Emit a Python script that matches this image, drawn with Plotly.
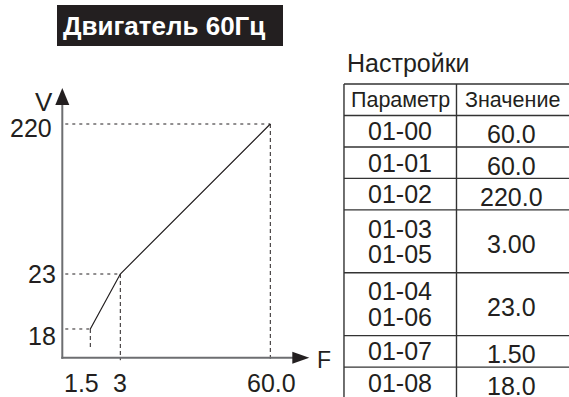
import numpy as np
import plotly.graph_objects as go

# ---------------- data ----------------
FREQ = [1.5, 3.0, 60.0]            # F points of the V/F curve
VOLT = [18.0, 23.0, 220.0]         # V points of the V/F curve
X_LABELS = ["1.5", "3", "60.0"]
Y_LABELS = ["18", "23", "220"]

TITLE = "Двигатель 60Гц"
TABLE_TITLE = "Настройки"
TABLE_HEADER = ["Параметр", "Значение"]
PARAMS = ["01-00", "01-01", "01-02", "01-03\n01-05", "01-04\n01-06", "01-07", "01-08"]
VALUES = ["60.0", "60.0", "220.0", "3.00", "23.0", "1.50", "18.0"]

# ---------------- styling / schematic scale ----------------
W, H = 569, 397
FONT = "Liberation Sans, Arial, sans-serif"
INK = "#231f20"
AXIS_GREY = "#6d6e71"

# schematic (non-linear) scale slots, in pixels from origin
X_SLOTS = [0, 28, 58, 208]
Y_SLOTS = [0, 28.7, 83.7, 233.7]


def fx(v):
    return np.interp(v, [0] + FREQ, X_SLOTS)


def fy(v):
    return np.interp(v, [0] + VOLT, Y_SLOTS)


ORIGIN_PX = (62.3, 357.7)
XR = [-60, 275]
YR = [-38, 290]
x_dom = [(ORIGIN_PX[0] + XR[0]) / W, (ORIGIN_PX[0] + XR[1]) / W]
y_dom = [1 - (ORIGIN_PX[1] - YR[0]) / H, 1 - (ORIGIN_PX[1] - YR[1]) / H]

fig = go.Figure()

# dashed guide lines
V_DROP_END = [8, -2.5, -1]
for f, v, dend in zip(FREQ, VOLT, V_DROP_END):
    fig.add_trace(go.Scatter(x=[3, fx(f)], y=[fy(v), fy(v)], mode="lines",
                             line=dict(color=INK, width=1, dash="3px,4px"),
                             hoverinfo="skip", showlegend=False))
    fig.add_trace(go.Scatter(x=[fx(f), fx(f)], y=[fy(v), dend], mode="lines",
                             line=dict(color=INK, width=1, dash="4px,3px"),
                             hoverinfo="skip", showlegend=False))

# V/F curve
fig.add_trace(go.Scatter(x=fx(np.array(FREQ)), y=fy(np.array(VOLT)), mode="lines",
                         line=dict(color=INK, width=1.2), showlegend=False))

shapes = []
# axes lines
shapes.append(dict(type="line", xref="x", yref="y", x0=-1, y0=0, x1=232, y1=0,
                   line=dict(color=AXIS_GREY, width=2)))
shapes.append(dict(type="line", xref="x", yref="y", x0=0, y0=-1, x1=0, y1=255,
                   line=dict(color=AXIS_GREY, width=2)))
# arrow heads
shapes.append(dict(type="path", xref="x", yref="y", path="M 247 0 L 230 6 L 230 -6 Z",
                   fillcolor=INK, line=dict(color=INK, width=0)))
shapes.append(dict(type="path", xref="x", yref="y", path="M 0 269.7 L -7 252.7 L 7 252.7 Z",
                   fillcolor=INK, line=dict(color=INK, width=0)))

annotations = []
# axis names
annotations.append(dict(x=-18, y=255.5, xref="x", yref="y", text="V", showarrow=False,
                        xanchor="center", yanchor="middle",
                        font=dict(family=FONT, size=26, color=INK)))
annotations.append(dict(x=262, y=-2.5, xref="x", yref="y", text="F", showarrow=False,
                        xanchor="center", yanchor="middle",
                        font=dict(family=FONT, size=23, color=INK)))

# tick labels
X_LABEL_SHIFT = [-9, 0, 1]
for f, lab, sh in zip(FREQ, X_LABELS, X_LABEL_SHIFT):
    annotations.append(dict(x=fx(f), y=0, xref="x", yref="y", text=lab, showarrow=False,
                            xshift=sh, yshift=-25, xanchor="center", yanchor="middle",
                            font=dict(family=FONT, size=25, color=INK)))
Y_LABEL_SHIFT = [-6.5, 0, -4]
Y_LABEL_X = [-4, -4, -8]
for v, lab, sh, xl in zip(VOLT, Y_LABELS, Y_LABEL_SHIFT, Y_LABEL_X):
    annotations.append(dict(x=xl, y=fy(v), xref="x", yref="y", text=lab, showarrow=False,
                            xanchor="right", yanchor="middle", yshift=sh,
                            font=dict(family=FONT, size=25, color=INK)))

# title box
shapes.append(dict(type="rect", xref="paper", yref="paper",
                   x0=57 / W, x1=283 / W, y0=1 - 46 / H, y1=1 - 5 / H,
                   fillcolor=INK, line=dict(width=0)))
annotations.append(dict(x=61 / W, y=1 - 26 / H, xref="paper", yref="paper", text="<b>" + TITLE + "</b>",
                        showarrow=False, xanchor="left", yanchor="middle",
                        font=dict(family=FONT, size=26, color="white")))

# ---------------- table (on its own axes, rows in line units) ----------------
row_lines = [1] + [p.count("\n") + 1 for p in PARAMS]
bounds = np.concatenate([[0], np.cumsum(row_lines)])
TBL = dict(color="#333333", width=1.4)
for b in bounds:
    shapes.append(dict(type="line", xref="x2", yref="y2", x0=0, x1=2.1, y0=b, y1=b, line=TBL))
for c in [0, 1]:
    shapes.append(dict(type="line", xref="x2", yref="y2", x0=c, x1=c, y0=0, y1=bounds[-1], line=TBL))

annotations.append(dict(x=408 / W, y=1 - 63 / H, xref="paper", yref="paper", text=TABLE_TITLE,
                        showarrow=False, xanchor="center", yanchor="middle",
                        font=dict(family=FONT, size=25, color=INK)))
for ci, h in enumerate(TABLE_HEADER):
    annotations.append(dict(x=ci + 0.5, y=0.5, xref="x2", yref="y2", text=h, showarrow=False,
                            xanchor="center", yanchor="middle",
                            font=dict(family=FONT, size=21.5, color=INK)))

LINE_PITCH = 0.81
for i, (p, val) in enumerate(zip(PARAMS, VALUES)):
    top = bounds[i + 1]
    n = row_lines[i + 1]
    mid = top + n / 2
    for k, line in enumerate(p.split("\n")):
        annotations.append(dict(x=0.5, y=mid + (k - (n - 1) / 2) * LINE_PITCH, xref="x2", yref="y2",
                                text=line, showarrow=False, xanchor="center", yanchor="middle",
                                font=dict(family=FONT, size=25, color=INK)))
    annotations.append(dict(x=1.49, y=mid, xref="x2", yref="y2", text=val, showarrow=False,
                            xanchor="center", yanchor="middle", yshift=-3,
                            font=dict(family=FONT, size=25, color=INK)))

ax_off = dict(visible=False, showgrid=False, zeroline=False, fixedrange=True)
fig.update_layout(
    width=W, height=H,
    margin=dict(l=0, r=0, t=0, b=0),
    paper_bgcolor="white", plot_bgcolor="rgba(0,0,0,0)",
    xaxis=dict(range=XR, domain=x_dom, **ax_off),
    yaxis=dict(range=YR, domain=y_dom, **ax_off),
    xaxis2=dict(range=[-0.03, 2.0], domain=[340.6 / W, 1], anchor="y2", **ax_off),
    yaxis2=dict(range=[9.95, -0.1], domain=[0, 0.7963], anchor="x2", **ax_off),
    shapes=shapes, annotations=annotations, showlegend=False,
)
fig.write_html("out.html", config={"displayModeBar": False},
               post_script="document.body.style.margin='0';document.body.style.overflow='hidden';")
